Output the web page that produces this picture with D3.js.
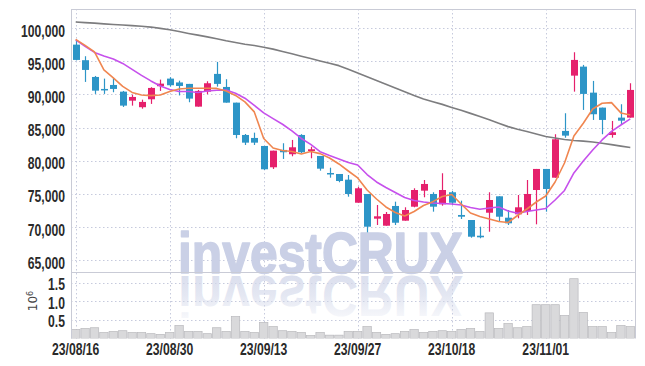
<!DOCTYPE html>
<html><head><meta charset="utf-8">
<script src="https://cdn.jsdelivr.net/npm/d3@7/dist/d3.min.js"></script>
<style>
html,body{margin:0;padding:0;background:#fff;}
svg{display:block;}
</style></head><body>
<svg id="c" width="645" height="366"></svg>
<script>
const dates = ["2023-08-16","2023-08-17","2023-08-18","2023-08-21","2023-08-22","2023-08-23","2023-08-24","2023-08-25","2023-08-28","2023-08-29",
"2023-08-30","2023-08-31","2023-09-01","2023-09-04","2023-09-05","2023-09-06","2023-09-07","2023-09-08","2023-09-11","2023-09-12",
"2023-09-13","2023-09-14","2023-09-15","2023-09-18","2023-09-19","2023-09-20","2023-09-21","2023-09-22","2023-09-25","2023-09-26",
"2023-09-27","2023-10-04","2023-10-05","2023-10-06","2023-10-10","2023-10-11","2023-10-12","2023-10-13","2023-10-16","2023-10-17",
"2023-10-18","2023-10-19","2023-10-20","2023-10-23","2023-10-24","2023-10-25","2023-10-26","2023-10-27","2023-10-30","2023-10-31",
"2023-11-01","2023-11-02","2023-11-03","2023-11-06","2023-11-07","2023-11-08","2023-11-09","2023-11-10","2023-11-13","2023-11-14"];

const open = [97520,95170,92640,90830,91430,90420,89060,88070,89270,91240,
92390,91810,91590,88160,90420,93100,91130,88760,83880,83430,
82220,79000,81620,80970,83880,81460,80710,78140,77990,77130,
73650,74970,71240,70180,73160,70940,73050,75470,74970,73410,
75230,71800,71040,68670,72140,74620,71390,71900,72400,75570,
78750,77430,84490,92840,94200,90270,88010,83880,86500,86500];

const high = [98160,95770,92790,92390,92490,90530,89970,89210,91090,92240,
92600,92080,91590,90680,91990,94910,92300,88760,84030,84230,
82220,81510,82630,83130,84000,82110,80710,78940,77990,77840,
76070,74970,73310,72250,73810,72960,75830,77080,75230,78100,
75420,73960,71040,70030,75230,74620,72550,74820,77080,78750,
78750,83990,87160,96370,94460,92040,88010,86000,88520,91690];

const low = [95140,91890,90080,90080,90330,88110,88310,87850,88570,90530,
91180,89850,88820,88160,90030,91180,88760,83380,82370,82370,
78600,78750,80260,80660,81160,80360,78490,77430,76740,74560,
73650,69180,70290,70180,70290,70940,72960,74470,72300,73200,
73310,71190,68370,68280,69270,70780,70290,71300,71800,70390,
72300,77430,83470,90420,87660,86150,83990,83470,85390,86500];

const close = [95210,93700,90570,90680,90830,88310,89620,88870,90980,91630,
91390,91280,89370,90530,91690,91590,88760,83880,82720,82720,
78700,81510,81270,82020,81270,81720,78790,77990,76930,74970,
75830,70030,71600,71950,70630,72550,75570,76480,73050,75570,
73650,71540,68520,68430,74060,71540,70540,72960,74970,78750,
75720,83230,83780,95210,90080,87010,86150,84290,86040,90680];

const volume = [240000,270000,290000,160000,190000,210000,160000,160000,130000,110000,
160000,350000,190000,190000,130000,290000,190000,590000,190000,160000,
430000,320000,210000,190000,160000,80000,160000,90000,90000,190000,
190000,320000,160000,110000,130000,190000,240000,160000,190000,210000,
190000,240000,270000,190000,690000,270000,400000,290000,320000,910000,
910000,910000,620000,1610000,700000,320000,320000,160000,350000,320000];

const maShort = [98310,97400,96420,93700,92490,91210,90300,89920,89820,89920,
90450,90830,90940,90940,90940,90910,90530,89850,88870,87360,
83350,81920,81540,81390,81010,81390,81060,80410,79500,78440,
77390,75570,74210,73010,72180,71650,72330,73230,73810,74590,
74890,73460,72100,71570,71190,70820,70660,71720,72700,73760,
74670,76780,79650,83730,85650,87810,88670,88760,87210,86900];

const maMid = [98230,97250,96340,95820,95360,94680,93780,92870,92040,91280,
90750,90450,90450,90300,90530,90630,90680,90180,89430,88340,
87210,86340,85500,84490,83350,82450,81360,80790,80260,79730,
79350,77910,76780,75950,75200,74440,73990,73760,73610,73530,
73460,73310,72930,72660,72850,73010,72400,72050,72330,72550,
72780,74060,75500,78140,79950,81620,83130,84410,85390,86300];

const maLong = [100940,100850,100760,100660,100570,100480,100390,100300,100170,99980,
99770,99490,99210,98960,98690,98410,98100,97840,97580,97400,
97130,96840,96480,96130,95770,95420,95060,94710,94350,93820,
93250,92670,92110,91540,90980,90410,89830,89320,88900,88500,
88040,87610,87140,86680,86190,85660,85140,84740,84400,84030,
83660,83410,83190,83050,82950,82820,82630,82420,82200,81980];

const priceTicks = [65000,70000,75000,80000,85000,90000,95000,100000];
const volTicks = [500000,1000000,1500000];
const dateTicks = ["2023-08-16","2023-08-30","2023-09-13","2023-09-27","2023-10-18","2023-11-01"];

const svg = d3.select("#c");
const L = 71, R = 635, T = 9, PB = 272, VB = 338.5;
const x = d3.scaleBand().domain(dates).range([L, R]).padding(0);
const y = d3.scaleLinear().domain([63190, 102900]).range([PB, T]);
const yv = d3.scaleLinear().domain([0, 1790000]).range([VB, PB]);
const cx = d => x(d) + x.bandwidth() / 2;

const gridC = "#c6cadd";
const labelFont = "'Liberation Sans',Arial,sans-serif";

// defs
const defs = svg.append("defs");
defs.append("clipPath").attr("id","clipP").append("rect").attr("x",L).attr("y",T).attr("width",R-L).attr("height",PB-T);
defs.append("clipPath").attr("id","clipV").append("rect").attr("x",L).attr("y",PB).attr("width",R-L).attr("height",VB-PB);
const grad = defs.append("linearGradient").attr("id","fade").attr("x1",0).attr("y1",0).attr("x2",0).attr("y2",1);
grad.append("stop").attr("offset","0").attr("stop-color","#d3d8ea").attr("stop-opacity",0);
grad.append("stop").attr("offset","0.5").attr("stop-color","#d3d8ea").attr("stop-opacity",0.6);
grad.append("stop").attr("offset","1").attr("stop-color","#d3d8ea").attr("stop-opacity",0.95);

// grid
const grid = svg.append("g");
grid.selectAll(".hp").data(priceTicks).join("line")
  .attr("x1",L).attr("x2",R).attr("y1",d=>Math.round(y(d))+0.5).attr("y2",d=>Math.round(y(d))+0.5)
  .attr("stroke",gridC).attr("stroke-dasharray","1.5,2.5");
grid.selectAll(".hv").data(volTicks).join("line")
  .attr("x1",L).attr("x2",R).attr("y1",d=>Math.round(yv(d))+0.5).attr("y2",d=>Math.round(yv(d))+0.5)
  .attr("stroke",gridC).attr("stroke-dasharray","1.5,2.5");
grid.selectAll(".vv").data(dateTicks).join("line")
  .attr("x1",d=>Math.round(cx(d))+0.5).attr("x2",d=>Math.round(cx(d))+0.5).attr("y1",T).attr("y2",VB)
  .attr("stroke",gridC).attr("stroke-dasharray","1.5,2.5");

// watermark
const wm = svg.append("g");
wm.append("text").attr("x",178).attr("y",272.5).attr("textLength",285).attr("lengthAdjust","spacingAndGlyphs")
  .attr("font-family","'Liberation Sans',Arial,sans-serif").attr("font-weight","bold").attr("font-size",58)
  .attr("fill","#cad0e6").attr("stroke","#cad0e6").attr("stroke-width",1.6).attr("stroke-linejoin","round").text("investCRUX");
wm.append("text").attr("x",178).attr("y",272.5).attr("textLength",285).attr("lengthAdjust","spacingAndGlyphs")
  .attr("transform","translate(0,548) scale(1,-1)")
  .attr("font-family","'Liberation Sans',Arial,sans-serif").attr("font-weight","bold").attr("font-size",58)
  .attr("fill","url(#fade)").text("investCRUX");

// volume bars
svg.append("g").attr("clip-path","url(#clipV)").selectAll("rect").data(dates).join("rect")
  .attr("x",d=>x(d)+0.5).attr("width",x.bandwidth()-1)
  .attr("y",(d,i)=>yv(volume[i])).attr("height",(d,i)=>VB-yv(volume[i]))
  .attr("fill","#d9d9db").attr("stroke","#b9b9bd").attr("stroke-width",0.7);

// frame
const fr = svg.append("g").attr("stroke","#c9cbd6").attr("stroke-width",1);
fr.append("line").attr("x1",L+0.5).attr("x2",L+0.5).attr("y1",T).attr("y2",VB);
fr.append("line").attr("x1",R+0.5).attr("x2",R+0.5).attr("y1",T).attr("y2",VB);
fr.append("line").attr("x1",L).attr("x2",R).attr("y1",T+0.5).attr("y2",T+0.5);
fr.append("line").attr("x1",L).attr("x2",R).attr("y1",PB+0.5).attr("y2",PB+0.5);

// candles
const up = "#e5206c", down = "#2d95c7";
const cg = svg.append("g").attr("clip-path","url(#clipP)");
const bw = 7;
cg.selectAll(".wick").data(dates).join("line")
  .attr("x1",d=>Math.round(cx(d))+0.5).attr("x2",d=>Math.round(cx(d))+0.5)
  .attr("y1",(d,i)=>y(high[i])).attr("y2",(d,i)=>y(low[i]))
  .attr("stroke",(d,i)=>close[i]>=open[i]?up:down).attr("stroke-width",1.2);
cg.selectAll(".body").data(dates).join("rect")
  .attr("x",d=>Math.round(cx(d))+0.5-bw/2).attr("width",bw)
  .attr("y",(d,i)=>y(Math.max(open[i],close[i])))
  .attr("height",(d,i)=>Math.max(1.5,Math.abs(y(open[i])-y(close[i]))))
  .attr("fill",(d,i)=>close[i]>=open[i]?up:down);

// MA lines
const lineGen = arr => d3.line().x(d=>cx(d)).y((d,i)=>y(arr[i]))(dates);
const lg = svg.append("g").attr("clip-path","url(#clipP)").attr("fill","none").attr("stroke-linejoin","round");
lg.append("path").attr("d",lineGen(maLong)).attr("stroke","#7d7d7f").attr("stroke-width",1.6);
lg.append("path").attr("d",lineGen(maMid)).attr("stroke","#c650ec").attr("stroke-width",1.6);
lg.append("path").attr("d",lineGen(maShort)).attr("stroke","#f08650").attr("stroke-width",1.6);

// condensed label styling
function narrow(sel){
  sel.attr("font-family",labelFont).attr("font-size",16).attr("font-weight","bold").attr("fill","#2a2a2a")
    .each(function(){ const l=this.getComputedTextLength(); d3.select(this).attr("textLength",l*0.76).attr("lengthAdjust","spacingAndGlyphs"); });
}

// axes
const ax = svg.append("g").attr("transform",`translate(${L},0)`)
  .call(d3.axisLeft(y).tickValues(priceTicks).tickFormat(d3.format(",")).tickSize(0).tickPadding(6));
ax.select(".domain").remove();
ax.selectAll("text").attr("dy","0.51em").call(narrow);

const av = svg.append("g").attr("transform",`translate(${L},0)`)
  .call(d3.axisLeft(yv).tickValues(volTicks).tickFormat(d=>(d/1e6).toFixed(1)).tickSize(0).tickPadding(6));
av.select(".domain").remove();
av.selectAll("text").attr("dy","0.42em").call(narrow);

const axb = svg.append("g").attr("transform",`translate(0,${VB})`)
  .call(d3.axisBottom(x).tickValues(dateTicks).tickFormat(d=>d.slice(2).replace(/-/g,"/")).tickSize(0).tickPadding(5));
axb.select(".domain").remove();
axb.selectAll("text").call(narrow);

// unit label
const ul = svg.append("text").attr("transform","translate(37,301) rotate(-90)").attr("text-anchor","middle")
  .attr("font-family","'DejaVu Sans',sans-serif").attr("font-size",12).attr("fill","#444");
ul.append("tspan").text("10");
ul.append("tspan").attr("baseline-shift","super").attr("font-size",8).text("6");
</script>
</body></html>
